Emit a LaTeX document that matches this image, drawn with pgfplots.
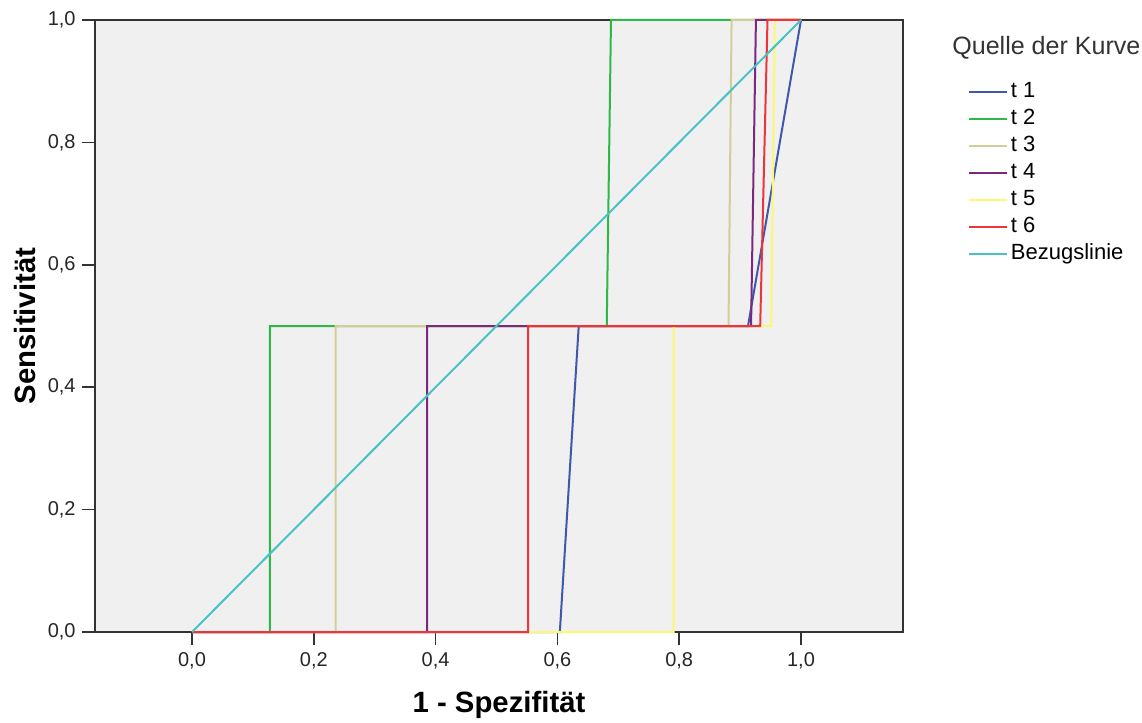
\documentclass[border=0pt]{standalone}
\usepackage{pgfplots}
\pgfplotsset{compat=1.18}
\usepackage{fontspec}
\setmainfont{Liberation Sans}

\definecolor{cT1}{HTML}{3E58AC}
\definecolor{cT2}{HTML}{2EB848}
\definecolor{cT3}{HTML}{D3CE97}
\definecolor{cT4}{HTML}{7C287D}
\definecolor{cT5}{HTML}{FBF873}
\definecolor{cT6}{HTML}{EF3338}
\definecolor{cRef}{HTML}{48C2C5}
\definecolor{plotbg}{HTML}{F0F0F0}
\definecolor{frame}{HTML}{333333}

\begin{document}
\begin{tikzpicture}
% overall canvas (1 px = 0.75 pt), axis box starts at the origin
\path[use as bounding box] (-71.25pt,-67.5pt) rectangle (785.25pt,474pt);
\begin{axis}[
  at={(0pt,0pt)}, anchor=south west,
  scale only axis,
  width=606pt, height=459pt,
  xmin=-0.1593, xmax=1.1675,
  ymin=0, ymax=1,
  clip=false,
  axis background/.style={fill=plotbg},
  axis line style={frame, line width=1.1pt},
  tick pos=left,
  tick align=outside,
  major tick length=10pt,
  tick style={frame, line width=1.1pt},
  xtick={0,0.2,0.4,0.6,0.8,1.0},
  ytick={0,0.2,0.4,0.6,0.8,1.0},
  /pgf/number format/.cd, use comma, fixed, fixed zerofill, precision=1, assume math mode=true,
  /pgfplots/.cd,
  tick label style={font=\fontsize{15}{18}\selectfont, text=black!85},
  xticklabel style={yshift=-2pt},
  yticklabel style={xshift=-1pt},
  xlabel={\textbf{1 - Spezifität}},
  ylabel={\textbf{Sensitivität}},
  label style={font=\fontsize{22}{26}\selectfont},
  xlabel style={at={(axis description cs:0.5,-0.119)}, anchor=center},
  ylabel style={at={(axis description cs:-0.0866,0.5)}, anchor=center, rotate=0},
  legend style={
    at={(axis description cs:1.0804,0.899)}, anchor=north west,
    draw=none, fill=none, inner sep=0pt,
    font=\fontsize{16.5}{19}\selectfont,
    row sep=5.3pt,
    nodes={inner ysep=0pt, inner xsep=2pt, text height=11.5pt, text depth=3.5pt},
  },
  legend cell align=left,
  legend image code/.code={\draw[#1, line width=1.5pt] (0pt,0pt) -- (28.5pt,0pt);},
  every axis plot/.append style={line width=1.5pt},
]
\addplot[cT1] coordinates {(0,0) (0.604,0) (0.635,0.5) (0.913,0.5) (1,1)};
\addlegendentry{t 1}
\addplot[cT2] coordinates {(0,0) (0.128,0) (0.128,0.5) (0.681,0.5) (0.688,1) (1,1)};
\addlegendentry{t 2}
\addplot[cT3] coordinates {(0,0) (0.236,0) (0.236,0.5) (0.881,0.5) (0.886,1) (1,1)};
\addlegendentry{t 3}
\addplot[cT4] coordinates {(0,0) (0.386,0) (0.386,0.5) (0.918,0.5) (0.926,1) (1,1)};
\addlegendentry{t 4}
\addplot[cT5] coordinates {(0,0) (0.791,0) (0.791,0.5) (0.951,0.5) (0.957,1) (1,1)};
\addlegendentry{t 5}
\addplot[cT6] coordinates {(0,0) (0.552,0) (0.552,0.5) (0.933,0.5) (0.945,1) (1,1)};
\addlegendentry{t 6}
\addplot[cRef] coordinates {(0,0) (1,1)};
\addlegendentry{Bezugslinie}
\node[anchor=west, inner sep=0pt, font=\fontsize{18.8}{22}\selectfont, text=black!80] at (axis description cs:1.0607,0.955) {Quelle der Kurve};
\end{axis}
\end{tikzpicture}
\end{document}
